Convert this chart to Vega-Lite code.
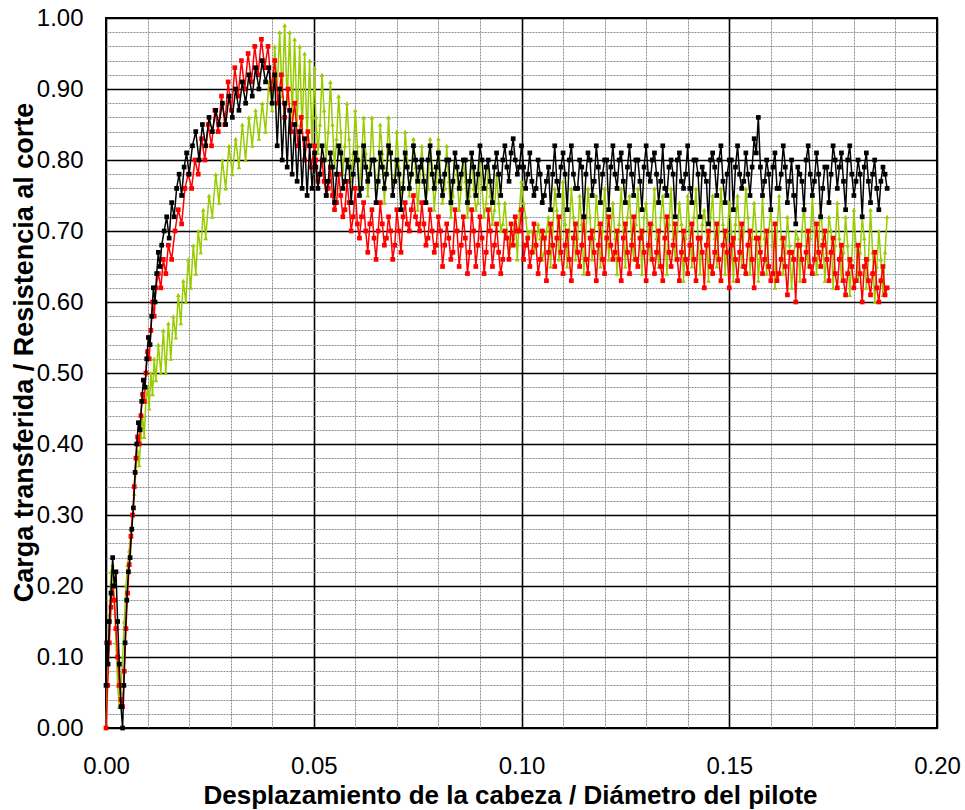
{
"$schema":"https://vega.github.io/schema/vega-lite/v6.json",
"width":831,"height":710,
"autosize":{"type":"none"},
"padding":{"left":106,"top":18,"right":28,"bottom":82},
"background":"#ffffff",
"config":{"view":{"stroke":"#000000","strokeWidth":2},"font":"Liberation Sans"},
"datasets":{
"G":[{"x":0,"y":0},{"x":0.0004,"y":0.08},{"x":0.0008,"y":0.16},{"x":0.0012,"y":0.22},{"x":0.0016,"y":0.23},{"x":0.002,"y":0.18},{"x":0.0024,"y":0.12},{"x":0.0028,"y":0.06},{"x":0.0032,"y":0.03},{"x":0.0036,"y":0.05},{"x":0.004,"y":0.1},{"x":0.0044,"y":0.15},{"x":0.0048,"y":0.2},{"x":0.0052,"y":0.23},{"x":0.0056,"y":0.25},{"x":0.006,"y":0.28},{"x":0.0064,"y":0.3},{"x":0.0068,"y":0.33},{"x":0.0072,"y":0.36},{"x":0.0076,"y":0.39},{"x":0.008,"y":0.37},{"x":0.0084,"y":0.41},{"x":0.0088,"y":0.44},{"x":0.0092,"y":0.41},{"x":0.0096,"y":0.46},{"x":0.01,"y":0.48},{"x":0.0104,"y":0.45},{"x":0.0108,"y":0.5},{"x":0.0112,"y":0.47},{"x":0.0116,"y":0.52},{"x":0.012,"y":0.49},{"x":0.0126,"y":0.54},{"x":0.0132,"y":0.5},{"x":0.0138,"y":0.56},{"x":0.0144,"y":0.5},{"x":0.015,"y":0.57},{"x":0.0156,"y":0.52},{"x":0.0162,"y":0.58},{"x":0.0168,"y":0.55},{"x":0.0174,"y":0.61},{"x":0.018,"y":0.57},{"x":0.0186,"y":0.63},{"x":0.0192,"y":0.6},{"x":0.0198,"y":0.66},{"x":0.0204,"y":0.62},{"x":0.021,"y":0.68},{"x":0.0216,"y":0.64},{"x":0.0222,"y":0.7},{"x":0.0228,"y":0.67},{"x":0.0234,"y":0.73},{"x":0.024,"y":0.69},{"x":0.0248,"y":0.75},{"x":0.0256,"y":0.72},{"x":0.0264,"y":0.78},{"x":0.0272,"y":0.74},{"x":0.028,"y":0.8},{"x":0.0288,"y":0.76},{"x":0.0296,"y":0.82},{"x":0.0304,"y":0.78},{"x":0.0312,"y":0.83},{"x":0.032,"y":0.79},{"x":0.0328,"y":0.85},{"x":0.0336,"y":0.8},{"x":0.0344,"y":0.86},{"x":0.0352,"y":0.82},{"x":0.036,"y":0.87},{"x":0.0368,"y":0.83},{"x":0.0376,"y":0.88},{"x":0.0384,"y":0.84},{"x":0.0392,"y":0.91},{"x":0.04,"y":0.87},{"x":0.0406,"y":0.96},{"x":0.0412,"y":0.9},{"x":0.0418,"y":0.98},{"x":0.0424,"y":0.89},{"x":0.043,"y":0.99},{"x":0.0436,"y":0.88},{"x":0.0442,"y":0.98},{"x":0.0448,"y":0.86},{"x":0.0454,"y":0.97},{"x":0.046,"y":0.85},{"x":0.0466,"y":0.96},{"x":0.0472,"y":0.84},{"x":0.0478,"y":0.95},{"x":0.0484,"y":0.83},{"x":0.049,"y":0.94},{"x":0.0496,"y":0.82},{"x":0.0502,"y":0.93},
{"x":0.0505,"y":0.86},{"x":0.051,"y":0.81},{"x":0.0515,"y":0.85},{"x":0.052,"y":0.92},{"x":0.0525,"y":0.87},{"x":0.053,"y":0.8},{"x":0.0535,"y":0.84},{"x":0.054,"y":0.91},{"x":0.0545,"y":0.85},{"x":0.055,"y":0.79},{"x":0.0555,"y":0.83},{"x":0.056,"y":0.89},{"x":0.0565,"y":0.84},{"x":0.057,"y":0.78},{"x":0.0575,"y":0.82},{"x":0.058,"y":0.88},{"x":0.0585,"y":0.83},{"x":0.059,"y":0.77},{"x":0.0595,"y":0.81},{"x":0.06,"y":0.87},
{"x":0.0605,"y":0.82},{"x":0.061,"y":0.76},{"x":0.0615,"y":0.8},{"x":0.062,"y":0.86},{"x":0.0625,"y":0.81},{"x":0.063,"y":0.75},{"x":0.0635,"y":0.79},{"x":0.064,"y":0.86},{"x":0.0645,"y":0.8},{"x":0.065,"y":0.76},{"x":0.0655,"y":0.78},{"x":0.066,"y":0.85},{"x":0.0665,"y":0.81},{"x":0.067,"y":0.74},{"x":0.0675,"y":0.79},{"x":0.068,"y":0.86},{"x":0.0685,"y":0.8},{"x":0.069,"y":0.75},{"x":0.0695,"y":0.78},{"x":0.07,"y":0.84},
{"x":0.0705,"y":0.79},{"x":0.071,"y":0.74},{"x":0.0715,"y":0.77},{"x":0.072,"y":0.84},{"x":0.0725,"y":0.8},{"x":0.073,"y":0.75},{"x":0.0735,"y":0.78},{"x":0.074,"y":0.83},{"x":0.0745,"y":0.79},{"x":0.075,"y":0.73},{"x":0.0755,"y":0.77},{"x":0.076,"y":0.82},{"x":0.0765,"y":0.78},{"x":0.077,"y":0.74},{"x":0.0775,"y":0.76},{"x":0.078,"y":0.83},{"x":0.0785,"y":0.79},{"x":0.079,"y":0.73},{"x":0.0795,"y":0.77},{"x":0.08,"y":0.83},
{"x":0.0805,"y":0.78},{"x":0.081,"y":0.74},{"x":0.0815,"y":0.76},{"x":0.082,"y":0.82},{"x":0.0825,"y":0.77},{"x":0.083,"y":0.72},{"x":0.0835,"y":0.75},{"x":0.084,"y":0.81},{"x":0.0845,"y":0.78},{"x":0.085,"y":0.73},{"x":0.0855,"y":0.76},{"x":0.086,"y":0.8},{"x":0.0865,"y":0.77},{"x":0.087,"y":0.72},{"x":0.0875,"y":0.75},{"x":0.088,"y":0.81},{"x":0.0885,"y":0.76},{"x":0.089,"y":0.73},{"x":0.0895,"y":0.74},{"x":0.09,"y":0.8},
{"x":0.0905,"y":0.76},{"x":0.091,"y":0.72},{"x":0.0915,"y":0.74},{"x":0.092,"y":0.79},{"x":0.0925,"y":0.75},{"x":0.093,"y":0.71},{"x":0.0935,"y":0.73},{"x":0.094,"y":0.78},{"x":0.0945,"y":0.74},{"x":0.095,"y":0.7},{"x":0.0955,"y":0.71},{"x":0.096,"y":0.74},{"x":0.0965,"y":0.7},{"x":0.097,"y":0.67},{"x":0.0975,"y":0.68},{"x":0.098,"y":0.69},{"x":0.0985,"y":0.72},{"x":0.099,"y":0.66},{"x":0.0995,"y":0.73},{"x":0.1,"y":0.77},
{"x":0.1005,"y":0.74},{"x":0.101,"y":0.72},{"x":0.1015,"y":0.69},{"x":0.102,"y":0.7},{"x":0.1025,"y":0.7},{"x":0.103,"y":0.67},{"x":0.1035,"y":0.68},{"x":0.104,"y":0.71},{"x":0.1045,"y":0.69},{"x":0.105,"y":0.66},{"x":0.1055,"y":0.67},{"x":0.106,"y":0.7},{"x":0.1065,"y":0.72},{"x":0.107,"y":0.65},{"x":0.1075,"y":0.7},{"x":0.108,"y":0.76},{"x":0.1085,"y":0.73},{"x":0.109,"y":0.66},{"x":0.1095,"y":0.69},{"x":0.11,"y":0.77},
{"x":0.1105,"y":0.71},{"x":0.111,"y":0.65},{"x":0.1115,"y":0.7},{"x":0.112,"y":0.76},{"x":0.1125,"y":0.72},{"x":0.113,"y":0.66},{"x":0.1135,"y":0.69},{"x":0.114,"y":0.75},{"x":0.1145,"y":0.71},{"x":0.115,"y":0.64},{"x":0.1155,"y":0.7},{"x":0.116,"y":0.76},{"x":0.1165,"y":0.72},{"x":0.117,"y":0.66},{"x":0.1175,"y":0.69},{"x":0.118,"y":0.75},{"x":0.1185,"y":0.71},{"x":0.119,"y":0.65},{"x":0.1195,"y":0.7},{"x":0.12,"y":0.76},
{"x":0.1205,"y":0.72},{"x":0.121,"y":0.66},{"x":0.1215,"y":0.7},{"x":0.122,"y":0.74},{"x":0.1225,"y":0.69},{"x":0.123,"y":0.64},{"x":0.1235,"y":0.71},{"x":0.124,"y":0.76},{"x":0.1245,"y":0.7},{"x":0.125,"y":0.65},{"x":0.1255,"y":0.72},{"x":0.126,"y":0.75},{"x":0.1265,"y":0.69},{"x":0.127,"y":0.66},{"x":0.1275,"y":0.71},{"x":0.128,"y":0.76},{"x":0.1285,"y":0.7},{"x":0.129,"y":0.64},{"x":0.1295,"y":0.72},{"x":0.13,"y":0.74},
{"x":0.1305,"y":0.7},{"x":0.131,"y":0.66},{"x":0.1315,"y":0.71},{"x":0.132,"y":0.76},{"x":0.1325,"y":0.69},{"x":0.133,"y":0.65},{"x":0.1335,"y":0.72},{"x":0.134,"y":0.75},{"x":0.1345,"y":0.7},{"x":0.135,"y":0.64},{"x":0.1355,"y":0.71},{"x":0.136,"y":0.76},{"x":0.1365,"y":0.69},{"x":0.137,"y":0.66},{"x":0.1375,"y":0.7},{"x":0.138,"y":0.74},{"x":0.1385,"y":0.71},{"x":0.139,"y":0.63},{"x":0.1395,"y":0.69},{"x":0.14,"y":0.75},
{"x":0.1405,"y":0.7},{"x":0.141,"y":0.65},{"x":0.1415,"y":0.72},{"x":0.142,"y":0.76},{"x":0.1425,"y":0.69},{"x":0.143,"y":0.64},{"x":0.1435,"y":0.71},{"x":0.144,"y":0.73},{"x":0.1445,"y":0.7},{"x":0.145,"y":0.63},{"x":0.1455,"y":0.72},{"x":0.146,"y":0.75},{"x":0.1465,"y":0.69},{"x":0.147,"y":0.65},{"x":0.1475,"y":0.7},{"x":0.148,"y":0.76},{"x":0.1485,"y":0.71},{"x":0.149,"y":0.64},{"x":0.1495,"y":0.69},{"x":0.15,"y":0.74},
{"x":0.1505,"y":0.7},{"x":0.151,"y":0.63},{"x":0.1515,"y":0.71},{"x":0.152,"y":0.75},{"x":0.1525,"y":0.69},{"x":0.153,"y":0.65},{"x":0.1535,"y":0.7},{"x":0.154,"y":0.76},{"x":0.1545,"y":0.72},{"x":0.155,"y":0.64},{"x":0.1555,"y":0.69},{"x":0.156,"y":0.74},{"x":0.1565,"y":0.7},{"x":0.157,"y":0.63},{"x":0.1575,"y":0.68},{"x":0.158,"y":0.75},{"x":0.1585,"y":0.69},{"x":0.159,"y":0.64},{"x":0.1595,"y":0.7},{"x":0.16,"y":0.73},
{"x":0.1605,"y":0.68},{"x":0.161,"y":0.62},{"x":0.1615,"y":0.7},{"x":0.162,"y":0.75},{"x":0.1625,"y":0.69},{"x":0.163,"y":0.64},{"x":0.1635,"y":0.67},{"x":0.164,"y":0.72},{"x":0.1645,"y":0.68},{"x":0.165,"y":0.62},{"x":0.1655,"y":0.66},{"x":0.166,"y":0.7},{"x":0.1665,"y":0.69},{"x":0.167,"y":0.63},{"x":0.1675,"y":0.7},{"x":0.168,"y":0.74},{"x":0.1685,"y":0.68},{"x":0.169,"y":0.65},{"x":0.1695,"y":0.69},{"x":0.17,"y":0.75},
{"x":0.1705,"y":0.7},{"x":0.171,"y":0.64},{"x":0.1715,"y":0.68},{"x":0.172,"y":0.74},{"x":0.1725,"y":0.69},{"x":0.173,"y":0.63},{"x":0.1735,"y":0.67},{"x":0.174,"y":0.72},{"x":0.1745,"y":0.7},{"x":0.175,"y":0.62},{"x":0.1755,"y":0.68},{"x":0.176,"y":0.74},{"x":0.1765,"y":0.69},{"x":0.177,"y":0.63},{"x":0.1775,"y":0.67},{"x":0.178,"y":0.72},{"x":0.1785,"y":0.68},{"x":0.179,"y":0.61},{"x":0.1795,"y":0.66},{"x":0.18,"y":0.73},
{"x":0.1805,"y":0.68},{"x":0.181,"y":0.63},{"x":0.1815,"y":0.67},{"x":0.182,"y":0.72},{"x":0.1825,"y":0.69},{"x":0.183,"y":0.62},{"x":0.1835,"y":0.66},{"x":0.184,"y":0.73},{"x":0.1845,"y":0.67},{"x":0.185,"y":0.6},{"x":0.1855,"y":0.65},{"x":0.186,"y":0.7},{"x":0.1865,"y":0.66},{"x":0.187,"y":0.61},{"x":0.1875,"y":0.67},{"x":0.188,"y":0.72}],
"R":[{"x":0,"y":0},{"x":0.0004,"y":0.06},{"x":0.0008,"y":0.12},{"x":0.0012,"y":0.17},{"x":0.0016,"y":0.2},{"x":0.002,"y":0.18},{"x":0.0024,"y":0.14},{"x":0.0028,"y":0.1},{"x":0.0032,"y":0.06},{"x":0.0036,"y":0.04},{"x":0.004,"y":0.03},{"x":0.0044,"y":0.08},{"x":0.0048,"y":0.14},{"x":0.0052,"y":0.19},{"x":0.0056,"y":0.23},{"x":0.006,"y":0.27},{"x":0.0064,"y":0.3},{"x":0.0068,"y":0.34},{"x":0.0072,"y":0.38},{"x":0.0076,"y":0.41},{"x":0.008,"y":0.4},{"x":0.0084,"y":0.44},{"x":0.0088,"y":0.47},{"x":0.0092,"y":0.46},{"x":0.0096,"y":0.5},{"x":0.01,"y":0.53},{"x":0.0104,"y":0.52},{"x":0.0108,"y":0.56},{"x":0.0112,"y":0.6},{"x":0.0116,"y":0.58},{"x":0.012,"y":0.62},{"x":0.0126,"y":0.64},{"x":0.0132,"y":0.62},{"x":0.0138,"y":0.66},{"x":0.0144,"y":0.64},{"x":0.015,"y":0.68},{"x":0.0158,"y":0.66},{"x":0.0166,"y":0.7},{"x":0.0174,"y":0.73},{"x":0.0182,"y":0.71},{"x":0.019,"y":0.76},{"x":0.0198,"y":0.78},{"x":0.0206,"y":0.76},{"x":0.0214,"y":0.8},{"x":0.0222,"y":0.78},{"x":0.023,"y":0.83},{"x":0.0238,"y":0.8},{"x":0.0246,"y":0.85},{"x":0.0254,"y":0.82},{"x":0.0262,"y":0.87},{"x":0.027,"y":0.84},{"x":0.0278,"y":0.89},{"x":0.0286,"y":0.85},{"x":0.0294,"y":0.91},{"x":0.0302,"y":0.87},{"x":0.031,"y":0.93},{"x":0.0318,"y":0.89},{"x":0.0326,"y":0.94},{"x":0.0334,"y":0.9},{"x":0.0342,"y":0.95},{"x":0.035,"y":0.91},{"x":0.0358,"y":0.96},{"x":0.0366,"y":0.92},{"x":0.0374,"y":0.97},{"x":0.0382,"y":0.93},{"x":0.039,"y":0.96},{"x":0.0398,"y":0.9},{"x":0.0406,"y":0.94},{"x":0.0414,"y":0.88},{"x":0.0422,"y":0.92},{"x":0.043,"y":0.86},{"x":0.0438,"y":0.9},{"x":0.0446,"y":0.84},{"x":0.0454,"y":0.88},{"x":0.0462,"y":0.82},{"x":0.047,"y":0.86},{"x":0.0478,"y":0.8},{"x":0.0486,"y":0.84},{"x":0.0494,"y":0.79},{"x":0.0502,"y":0.82},
{"x":0.0505,"y":0.8},{"x":0.051,"y":0.77},{"x":0.0515,"y":0.78},{"x":0.052,"y":0.8},{"x":0.0525,"y":0.77},{"x":0.053,"y":0.75},{"x":0.0535,"y":0.76},{"x":0.054,"y":0.79},{"x":0.0545,"y":0.75},{"x":0.055,"y":0.73},{"x":0.0555,"y":0.74},{"x":0.056,"y":0.78},{"x":0.0565,"y":0.75},{"x":0.057,"y":0.72},{"x":0.0575,"y":0.73},{"x":0.058,"y":0.77},{"x":0.0585,"y":0.74},{"x":0.059,"y":0.7},{"x":0.0595,"y":0.72},{"x":0.06,"y":0.76},
{"x":0.0605,"y":0.71},{"x":0.061,"y":0.69},{"x":0.0615,"y":0.72},{"x":0.062,"y":0.74},{"x":0.0625,"y":0.7},{"x":0.063,"y":0.67},{"x":0.0635,"y":0.71},{"x":0.064,"y":0.73},{"x":0.0645,"y":0.69},{"x":0.065,"y":0.66},{"x":0.0655,"y":0.7},{"x":0.066,"y":0.74},{"x":0.0665,"y":0.71},{"x":0.067,"y":0.68},{"x":0.0675,"y":0.69},{"x":0.068,"y":0.72},{"x":0.0685,"y":0.7},{"x":0.069,"y":0.66},{"x":0.0695,"y":0.68},{"x":0.07,"y":0.73},
{"x":0.0705,"y":0.7},{"x":0.071,"y":0.67},{"x":0.0715,"y":0.72},{"x":0.072,"y":0.74},{"x":0.0725,"y":0.71},{"x":0.073,"y":0.7},{"x":0.0735,"y":0.73},{"x":0.074,"y":0.75},{"x":0.0745,"y":0.72},{"x":0.075,"y":0.71},{"x":0.0755,"y":0.7},{"x":0.076,"y":0.74},{"x":0.0765,"y":0.71},{"x":0.077,"y":0.68},{"x":0.0775,"y":0.69},{"x":0.078,"y":0.73},{"x":0.0785,"y":0.7},{"x":0.079,"y":0.67},{"x":0.0795,"y":0.68},{"x":0.08,"y":0.72},
{"x":0.0805,"y":0.7},{"x":0.081,"y":0.65},{"x":0.0815,"y":0.68},{"x":0.082,"y":0.71},{"x":0.0825,"y":0.69},{"x":0.083,"y":0.66},{"x":0.0835,"y":0.67},{"x":0.084,"y":0.73},{"x":0.0845,"y":0.7},{"x":0.085,"y":0.65},{"x":0.0855,"y":0.68},{"x":0.086,"y":0.72},{"x":0.0865,"y":0.69},{"x":0.087,"y":0.64},{"x":0.0875,"y":0.67},{"x":0.088,"y":0.73},{"x":0.0885,"y":0.7},{"x":0.089,"y":0.65},{"x":0.0895,"y":0.68},{"x":0.09,"y":0.72},
{"x":0.0905,"y":0.69},{"x":0.091,"y":0.64},{"x":0.0915,"y":0.67},{"x":0.092,"y":0.73},{"x":0.0925,"y":0.7},{"x":0.093,"y":0.65},{"x":0.0935,"y":0.68},{"x":0.094,"y":0.71},{"x":0.0945,"y":0.67},{"x":0.095,"y":0.64},{"x":0.0955,"y":0.66},{"x":0.096,"y":0.7},{"x":0.0965,"y":0.69},{"x":0.097,"y":0.66},{"x":0.0975,"y":0.71},{"x":0.098,"y":0.68},{"x":0.0985,"y":0.72},{"x":0.099,"y":0.7},{"x":0.0995,"y":0.7},{"x":0.1,"y":0.73},
{"x":0.1005,"y":0.66},{"x":0.101,"y":0.68},{"x":0.1015,"y":0.69},{"x":0.102,"y":0.65},{"x":0.1025,"y":0.67},{"x":0.103,"y":0.71},{"x":0.1035,"y":0.68},{"x":0.104,"y":0.64},{"x":0.1045,"y":0.66},{"x":0.105,"y":0.7},{"x":0.1055,"y":0.69},{"x":0.106,"y":0.63},{"x":0.1065,"y":0.67},{"x":0.107,"y":0.71},{"x":0.1075,"y":0.68},{"x":0.108,"y":0.65},{"x":0.1085,"y":0.69},{"x":0.109,"y":0.72},{"x":0.1095,"y":0.67},{"x":0.11,"y":0.64},
{"x":0.1105,"y":0.68},{"x":0.111,"y":0.7},{"x":0.1115,"y":0.66},{"x":0.112,"y":0.63},{"x":0.1125,"y":0.69},{"x":0.113,"y":0.71},{"x":0.1135,"y":0.67},{"x":0.114,"y":0.65},{"x":0.1145,"y":0.68},{"x":0.115,"y":0.72},{"x":0.1155,"y":0.66},{"x":0.116,"y":0.64},{"x":0.1165,"y":0.69},{"x":0.117,"y":0.7},{"x":0.1175,"y":0.67},{"x":0.118,"y":0.63},{"x":0.1185,"y":0.68},{"x":0.119,"y":0.71},{"x":0.1195,"y":0.66},{"x":0.12,"y":0.64},
{"x":0.1205,"y":0.69},{"x":0.121,"y":0.72},{"x":0.1215,"y":0.68},{"x":0.122,"y":0.66},{"x":0.1225,"y":0.67},{"x":0.123,"y":0.7},{"x":0.1235,"y":0.66},{"x":0.124,"y":0.63},{"x":0.1245,"y":0.69},{"x":0.125,"y":0.71},{"x":0.1255,"y":0.67},{"x":0.126,"y":0.64},{"x":0.1265,"y":0.68},{"x":0.127,"y":0.72},{"x":0.1275,"y":0.66},{"x":0.128,"y":0.65},{"x":0.1285,"y":0.69},{"x":0.129,"y":0.7},{"x":0.1295,"y":0.67},{"x":0.13,"y":0.63},
{"x":0.1305,"y":0.68},{"x":0.131,"y":0.71},{"x":0.1315,"y":0.66},{"x":0.132,"y":0.64},{"x":0.1325,"y":0.67},{"x":0.133,"y":0.7},{"x":0.1335,"y":0.65},{"x":0.134,"y":0.63},{"x":0.1345,"y":0.69},{"x":0.135,"y":0.72},{"x":0.1355,"y":0.67},{"x":0.136,"y":0.65},{"x":0.1365,"y":0.68},{"x":0.137,"y":0.71},{"x":0.1375,"y":0.66},{"x":0.138,"y":0.63},{"x":0.1385,"y":0.67},{"x":0.139,"y":0.7},{"x":0.1395,"y":0.66},{"x":0.14,"y":0.64},
{"x":0.1405,"y":0.68},{"x":0.141,"y":0.71},{"x":0.1415,"y":0.66},{"x":0.142,"y":0.63},{"x":0.1425,"y":0.69},{"x":0.143,"y":0.69},{"x":0.1435,"y":0.67},{"x":0.144,"y":0.62},{"x":0.1445,"y":0.68},{"x":0.145,"y":0.7},{"x":0.1455,"y":0.65},{"x":0.146,"y":0.64},{"x":0.1465,"y":0.67},{"x":0.147,"y":0.71},{"x":0.1475,"y":0.66},{"x":0.148,"y":0.63},{"x":0.1485,"y":0.68},{"x":0.149,"y":0.7},{"x":0.1495,"y":0.67},{"x":0.15,"y":0.62},
{"x":0.1505,"y":0.68},{"x":0.151,"y":0.69},{"x":0.1515,"y":0.66},{"x":0.152,"y":0.63},{"x":0.1525,"y":0.67},{"x":0.153,"y":0.71},{"x":0.1535,"y":0.65},{"x":0.154,"y":0.64},{"x":0.1545,"y":0.68},{"x":0.155,"y":0.7},{"x":0.1555,"y":0.66},{"x":0.156,"y":0.62},{"x":0.1565,"y":0.69},{"x":0.157,"y":0.69},{"x":0.1575,"y":0.67},{"x":0.158,"y":0.64},{"x":0.1585,"y":0.66},{"x":0.159,"y":0.7},{"x":0.1595,"y":0.65},{"x":0.16,"y":0.63},
{"x":0.1605,"y":0.64},{"x":0.161,"y":0.71},{"x":0.1615,"y":0.63},{"x":0.162,"y":0.64},{"x":0.1625,"y":0.66},{"x":0.163,"y":0.69},{"x":0.1635,"y":0.65},{"x":0.164,"y":0.61},{"x":0.1645,"y":0.67},{"x":0.165,"y":0.67},{"x":0.1655,"y":0.66},{"x":0.166,"y":0.6},{"x":0.1665,"y":0.68},{"x":0.167,"y":0.68},{"x":0.1675,"y":0.66},{"x":0.168,"y":0.63},{"x":0.1685,"y":0.67},{"x":0.169,"y":0.7},{"x":0.1695,"y":0.65},{"x":0.17,"y":0.64},
{"x":0.1705,"y":0.66},{"x":0.171,"y":0.71},{"x":0.1715,"y":0.67},{"x":0.172,"y":0.65},{"x":0.1725,"y":0.68},{"x":0.173,"y":0.7},{"x":0.1735,"y":0.66},{"x":0.174,"y":0.63},{"x":0.1745,"y":0.67},{"x":0.175,"y":0.69},{"x":0.1755,"y":0.64},{"x":0.176,"y":0.62},{"x":0.1765,"y":0.66},{"x":0.177,"y":0.68},{"x":0.1775,"y":0.63},{"x":0.178,"y":0.61},{"x":0.1785,"y":0.64},{"x":0.179,"y":0.66},{"x":0.1795,"y":0.65},{"x":0.18,"y":0.62},
{"x":0.1805,"y":0.63},{"x":0.181,"y":0.68},{"x":0.1815,"y":0.64},{"x":0.182,"y":0.6},{"x":0.1825,"y":0.65},{"x":0.183,"y":0.66},{"x":0.1835,"y":0.63},{"x":0.184,"y":0.61},{"x":0.1845,"y":0.64},{"x":0.185,"y":0.67},{"x":0.1855,"y":0.62},{"x":0.186,"y":0.6},{"x":0.1865,"y":0.63},{"x":0.187,"y":0.65},{"x":0.1875,"y":0.61},{"x":0.188,"y":0.62}],
"K":[{"x":0,"y":0.06},{"x":0.0002,"y":0.12},{"x":0.0005,"y":0.09},{"x":0.0008,"y":0.15},{"x":0.0012,"y":0.19},{"x":0.0016,"y":0.24},{"x":0.002,"y":0.2},{"x":0.0024,"y":0.22},{"x":0.0028,"y":0.15},{"x":0.0032,"y":0.09},{"x":0.0036,"y":0.03},{"x":0.004,"y":0},{"x":0.0043,"y":0.06},{"x":0.0046,"y":0.12},{"x":0.005,"y":0.18},{"x":0.0054,"y":0.22},{"x":0.0058,"y":0.24},{"x":0.0062,"y":0.28},{"x":0.0066,"y":0.31},{"x":0.007,"y":0.36},{"x":0.0074,"y":0.4},{"x":0.0078,"y":0.43},{"x":0.0082,"y":0.42},{"x":0.0086,"y":0.46},{"x":0.009,"y":0.49},{"x":0.0094,"y":0.48},{"x":0.0098,"y":0.52},{"x":0.0102,"y":0.55},{"x":0.0106,"y":0.54},{"x":0.011,"y":0.58},{"x":0.0114,"y":0.62},{"x":0.0118,"y":0.6},{"x":0.0122,"y":0.64},{"x":0.0126,"y":0.67},{"x":0.013,"y":0.65},{"x":0.0134,"y":0.68},{"x":0.014,"y":0.7},{"x":0.0146,"y":0.72},{"x":0.0152,"y":0.69},{"x":0.0158,"y":0.74},{"x":0.0164,"y":0.72},{"x":0.017,"y":0.76},{"x":0.0176,"y":0.78},{"x":0.0182,"y":0.75},{"x":0.0188,"y":0.79},{"x":0.0194,"y":0.81},{"x":0.02,"y":0.78},{"x":0.0208,"y":0.82},{"x":0.0216,"y":0.84},{"x":0.0224,"y":0.8},{"x":0.0232,"y":0.85},{"x":0.024,"y":0.82},{"x":0.0248,"y":0.86},{"x":0.0256,"y":0.84},{"x":0.0264,"y":0.87},{"x":0.0272,"y":0.85},{"x":0.028,"y":0.88},{"x":0.0288,"y":0.85},{"x":0.0296,"y":0.89},{"x":0.0304,"y":0.86},{"x":0.0312,"y":0.9},{"x":0.032,"y":0.87},{"x":0.0328,"y":0.91},{"x":0.0336,"y":0.88},{"x":0.0344,"y":0.92},{"x":0.0352,"y":0.89},{"x":0.036,"y":0.93},{"x":0.0368,"y":0.9},{"x":0.0376,"y":0.94},{"x":0.0384,"y":0.91},{"x":0.0392,"y":0.93},{"x":0.04,"y":0.88},{"x":0.0406,"y":0.92},{"x":0.0412,"y":0.82},{"x":0.0418,"y":0.9},{"x":0.0424,"y":0.8},{"x":0.043,"y":0.88},{"x":0.0436,"y":0.79},{"x":0.0442,"y":0.87},{"x":0.0448,"y":0.78},{"x":0.0454,"y":0.85},{"x":0.046,"y":0.77},{"x":0.0466,"y":0.84},{"x":0.0472,"y":0.76},{"x":0.0478,"y":0.83},{"x":0.0484,"y":0.75},{"x":0.049,"y":0.82},{"x":0.0496,"y":0.76},{"x":0.0502,"y":0.81},
{"x":0.0505,"y":0.79},{"x":0.051,"y":0.76},{"x":0.0515,"y":0.78},{"x":0.052,"y":0.82},{"x":0.0525,"y":0.8},{"x":0.053,"y":0.75},{"x":0.0535,"y":0.77},{"x":0.054,"y":0.81},{"x":0.0545,"y":0.79},{"x":0.055,"y":0.74},{"x":0.0555,"y":0.78},{"x":0.056,"y":0.82},{"x":0.0565,"y":0.81},{"x":0.057,"y":0.76},{"x":0.0575,"y":0.77},{"x":0.058,"y":0.8},{"x":0.0585,"y":0.79},{"x":0.059,"y":0.74},{"x":0.0595,"y":0.78},{"x":0.06,"y":0.81},
{"x":0.0605,"y":0.8},{"x":0.061,"y":0.75},{"x":0.0615,"y":0.76},{"x":0.062,"y":0.82},{"x":0.0625,"y":0.79},{"x":0.063,"y":0.77},{"x":0.0635,"y":0.78},{"x":0.064,"y":0.8},{"x":0.0645,"y":0.8},{"x":0.065,"y":0.74},{"x":0.0655,"y":0.77},{"x":0.066,"y":0.81},{"x":0.0665,"y":0.79},{"x":0.067,"y":0.76},{"x":0.0675,"y":0.78},{"x":0.068,"y":0.82},{"x":0.0685,"y":0.81},{"x":0.069,"y":0.75},{"x":0.0695,"y":0.77},{"x":0.07,"y":0.8},
{"x":0.0705,"y":0.78},{"x":0.071,"y":0.73},{"x":0.0715,"y":0.76},{"x":0.072,"y":0.81},{"x":0.0725,"y":0.79},{"x":0.073,"y":0.76},{"x":0.0735,"y":0.78},{"x":0.074,"y":0.82},{"x":0.0745,"y":0.8},{"x":0.075,"y":0.77},{"x":0.0755,"y":0.79},{"x":0.076,"y":0.8},{"x":0.0765,"y":0.77},{"x":0.077,"y":0.74},{"x":0.0775,"y":0.8},{"x":0.078,"y":0.82},{"x":0.0785,"y":0.78},{"x":0.079,"y":0.76},{"x":0.0795,"y":0.79},{"x":0.08,"y":0.81},
{"x":0.0805,"y":0.77},{"x":0.081,"y":0.75},{"x":0.0815,"y":0.78},{"x":0.082,"y":0.8},{"x":0.0825,"y":0.8},{"x":0.083,"y":0.74},{"x":0.0835,"y":0.77},{"x":0.084,"y":0.81},{"x":0.0845,"y":0.79},{"x":0.085,"y":0.76},{"x":0.0855,"y":0.78},{"x":0.086,"y":0.8},{"x":0.0865,"y":0.8},{"x":0.087,"y":0.74},{"x":0.0875,"y":0.77},{"x":0.088,"y":0.81},{"x":0.0885,"y":0.79},{"x":0.089,"y":0.75},{"x":0.0895,"y":0.78},{"x":0.09,"y":0.82},
{"x":0.0905,"y":0.8},{"x":0.091,"y":0.76},{"x":0.0915,"y":0.79},{"x":0.092,"y":0.8},{"x":0.0925,"y":0.77},{"x":0.093,"y":0.74},{"x":0.0935,"y":0.79},{"x":0.094,"y":0.81},{"x":0.0945,"y":0.78},{"x":0.095,"y":0.75},{"x":0.0955,"y":0.8},{"x":0.096,"y":0.82},{"x":0.0965,"y":0.79},{"x":0.097,"y":0.77},{"x":0.0975,"y":0.81},{"x":0.098,"y":0.83},{"x":0.0985,"y":0.8},{"x":0.099,"y":0.78},{"x":0.0995,"y":0.79},{"x":0.1,"y":0.82},
{"x":0.1005,"y":0.79},{"x":0.101,"y":0.76},{"x":0.1015,"y":0.78},{"x":0.102,"y":0.81},{"x":0.1025,"y":0.77},{"x":0.103,"y":0.75},{"x":0.1035,"y":0.76},{"x":0.104,"y":0.8},{"x":0.1045,"y":0.78},{"x":0.105,"y":0.74},{"x":0.1055,"y":0.75},{"x":0.106,"y":0.77},{"x":0.1065,"y":0.79},{"x":0.107,"y":0.73},{"x":0.1075,"y":0.78},{"x":0.108,"y":0.82},{"x":0.1085,"y":0.77},{"x":0.109,"y":0.75},{"x":0.1095,"y":0.79},{"x":0.11,"y":0.81},
{"x":0.1105,"y":0.78},{"x":0.111,"y":0.73},{"x":0.1115,"y":0.8},{"x":0.112,"y":0.82},{"x":0.1125,"y":0.78},{"x":0.113,"y":0.76},{"x":0.1135,"y":0.76},{"x":0.114,"y":0.8},{"x":0.1145,"y":0.79},{"x":0.115,"y":0.72},{"x":0.1155,"y":0.78},{"x":0.116,"y":0.81},{"x":0.1165,"y":0.8},{"x":0.117,"y":0.75},{"x":0.1175,"y":0.77},{"x":0.118,"y":0.82},{"x":0.1185,"y":0.79},{"x":0.119,"y":0.74},{"x":0.1195,"y":0.78},{"x":0.12,"y":0.8},
{"x":0.1205,"y":0.8},{"x":0.121,"y":0.73},{"x":0.1215,"y":0.79},{"x":0.122,"y":0.82},{"x":0.1225,"y":0.78},{"x":0.123,"y":0.76},{"x":0.1235,"y":0.8},{"x":0.124,"y":0.81},{"x":0.1245,"y":0.77},{"x":0.125,"y":0.74},{"x":0.1255,"y":0.79},{"x":0.126,"y":0.82},{"x":0.1265,"y":0.78},{"x":0.127,"y":0.75},{"x":0.1275,"y":0.8},{"x":0.128,"y":0.8},{"x":0.1285,"y":0.77},{"x":0.129,"y":0.73},{"x":0.1295,"y":0.79},{"x":0.13,"y":0.82},
{"x":0.1305,"y":0.78},{"x":0.131,"y":0.77},{"x":0.1315,"y":0.8},{"x":0.132,"y":0.81},{"x":0.1325,"y":0.78},{"x":0.133,"y":0.74},{"x":0.1335,"y":0.77},{"x":0.134,"y":0.82},{"x":0.1345,"y":0.76},{"x":0.135,"y":0.75},{"x":0.1355,"y":0.79},{"x":0.136,"y":0.8},{"x":0.1365,"y":0.78},{"x":0.137,"y":0.72},{"x":0.1375,"y":0.8},{"x":0.138,"y":0.81},{"x":0.1385,"y":0.77},{"x":0.139,"y":0.76},{"x":0.1395,"y":0.78},{"x":0.14,"y":0.82},
{"x":0.1405,"y":0.76},{"x":0.141,"y":0.74},{"x":0.1415,"y":0.8},{"x":0.142,"y":0.8},{"x":0.1425,"y":0.78},{"x":0.143,"y":0.72},{"x":0.1435,"y":0.79},{"x":0.144,"y":0.78},{"x":0.1445,"y":0.77},{"x":0.145,"y":0.71},{"x":0.1455,"y":0.8},{"x":0.146,"y":0.81},{"x":0.1465,"y":0.79},{"x":0.147,"y":0.75},{"x":0.1475,"y":0.8},{"x":0.148,"y":0.82},{"x":0.1485,"y":0.77},{"x":0.149,"y":0.74},{"x":0.1495,"y":0.78},{"x":0.15,"y":0.8},
{"x":0.1505,"y":0.8},{"x":0.151,"y":0.73},{"x":0.1515,"y":0.79},{"x":0.152,"y":0.82},{"x":0.1525,"y":0.78},{"x":0.153,"y":0.76},{"x":0.1535,"y":0.77},{"x":0.154,"y":0.81},{"x":0.1545,"y":0.78},{"x":0.155,"y":0.75},{"x":0.1555,"y":0.79},{"x":0.156,"y":0.83},{"x":0.1565,"y":0.81},{"x":0.157,"y":0.86},{"x":0.1575,"y":0.79},{"x":0.158,"y":0.75},{"x":0.1585,"y":0.77},{"x":0.159,"y":0.8},{"x":0.1595,"y":0.78},{"x":0.16,"y":0.73},
{"x":0.1605,"y":0.79},{"x":0.161,"y":0.81},{"x":0.1615,"y":0.76},{"x":0.162,"y":0.76},{"x":0.1625,"y":0.78},{"x":0.163,"y":0.82},{"x":0.1635,"y":0.79},{"x":0.164,"y":0.74},{"x":0.1645,"y":0.77},{"x":0.165,"y":0.8},{"x":0.1655,"y":0.75},{"x":0.166,"y":0.71},{"x":0.1665,"y":0.79},{"x":0.167,"y":0.78},{"x":0.1675,"y":0.77},{"x":0.168,"y":0.73},{"x":0.1685,"y":0.8},{"x":0.169,"y":0.82},{"x":0.1695,"y":0.78},{"x":0.17,"y":0.75},
{"x":0.1705,"y":0.77},{"x":0.171,"y":0.81},{"x":0.1715,"y":0.78},{"x":0.172,"y":0.72},{"x":0.1725,"y":0.76},{"x":0.173,"y":0.79},{"x":0.1735,"y":0.79},{"x":0.174,"y":0.74},{"x":0.1745,"y":0.78},{"x":0.175,"y":0.82},{"x":0.1755,"y":0.8},{"x":0.176,"y":0.76},{"x":0.1765,"y":0.79},{"x":0.177,"y":0.81},{"x":0.1775,"y":0.77},{"x":0.178,"y":0.73},{"x":0.1785,"y":0.8},{"x":0.179,"y":0.82},{"x":0.1795,"y":0.78},{"x":0.18,"y":0.75},
{"x":0.1805,"y":0.77},{"x":0.181,"y":0.8},{"x":0.1815,"y":0.78},{"x":0.182,"y":0.72},{"x":0.1825,"y":0.79},{"x":0.183,"y":0.81},{"x":0.1835,"y":0.77},{"x":0.184,"y":0.74},{"x":0.1845,"y":0.78},{"x":0.185,"y":0.8},{"x":0.1855,"y":0.76},{"x":0.186,"y":0.73},{"x":0.1865,"y":0.77},{"x":0.187,"y":0.79},{"x":0.1875,"y":0.78},{"x":0.188,"y":0.76}]
},
"encoding":{
"x":{"field":"x","type":"quantitative","scale":{"domain":[0,0.2],"nice":false,"zero":false},
"axis":{"values":[0,0.01,0.02,0.03,0.04,0.05,0.06,0.07,0.08,0.09,0.1,0.11,0.12,0.13,0.14,0.15,0.16,0.17,0.18,0.19,0.2],
"grid":true,"ticks":false,"domain":false,"labelOverlap":false,"labelFlush":false,
"labelExpr":"round(datum.value*100)%5==0 ? format(datum.value,'.2f') : ''",
"gridColor":{"condition":{"test":"round(datum.value*100)%5==0","value":"#000000"},"value":"#8c8c8c"},
"gridWidth":{"condition":{"test":"round(datum.value*100)%5==0","value":1.6},"value":1},
"gridDash":{"condition":{"test":"round(datum.value*100)%5==0","value":[]},"value":[2,1]},
"gridOpacity":1,
"labelFont":"Liberation Sans","labelFontSize":24,"labelColor":"#000000","labelPadding":26,
"title":"Desplazamiento de la cabeza / Diámetro del pilote","titleFont":"Liberation Sans","titleFontSize":26,"titleFontWeight":"bold","titleColor":"#000000",
"titleX":404,"titleY":75,"titleBaseline":"alphabetic","titleAlign":"center","titleAnchor":null}},
"y":{"field":"y","type":"quantitative","scale":{"domain":[0,1],"nice":false,"zero":false},
"axis":{"values":[0,0.02,0.04,0.06,0.08,0.1,0.12,0.14,0.16,0.18,0.2,0.22,0.24,0.26,0.28,0.3,0.32,0.34,0.36,0.38,0.4,0.42,0.44,0.46,0.48,0.5,0.52,0.54,0.56,0.58,0.6,0.62,0.64,0.66,0.68,0.7,0.72,0.74,0.76,0.78,0.8,0.82,0.84,0.86,0.88,0.9,0.92,0.94,0.96,0.98,1],
"grid":true,"ticks":false,"domain":false,"labelOverlap":false,"labelFlush":false,
"labelExpr":"round(datum.value*100)%10==0 ? format(datum.value,'.2f') : ''",
"gridColor":{"condition":{"test":"round(datum.value*100)%10==0","value":"#000000"},"value":"#8c8c8c"},
"gridWidth":{"condition":{"test":"round(datum.value*100)%10==0","value":1.6},"value":1},
"gridDash":{"condition":{"test":"round(datum.value*100)%10==0","value":[]},"value":[2,1]},
"gridOpacity":1,
"labelFont":"Liberation Sans","labelFontSize":24,"labelColor":"#000000","labelPadding":23,
"title":"Carga transferida / Resistencia al corte","titleFont":"Liberation Sans","titleFontSize":27,"titleFontWeight":"bold","titleColor":"#000000","titleLimit":700,
"titleX":-82,"titleY":334,"titleBaseline":"middle","titleAlign":"center","titleAngle":-90,"titleAnchor":null}}
},
"layer":[
{"data":{"name":"G"},"mark":{"type":"line","color":"#99cc00","strokeWidth":1.5}},
{"data":{"name":"G"},"mark":{"type":"point","shape":"triangle-up","filled":true,"color":"#99cc00","size":22,"opacity":1}},
{"data":{"name":"R"},"mark":{"type":"line","color":"#ff0000","strokeWidth":1.5}},
{"data":{"name":"R"},"mark":{"type":"point","shape":"square","filled":true,"color":"#ff0000","size":22,"opacity":1}},
{"data":{"name":"K"},"mark":{"type":"line","color":"#000000","strokeWidth":1.5}},
{"data":{"name":"K"},"mark":{"type":"point","shape":"square","filled":true,"color":"#000000","size":22,"opacity":1}}
]
}
